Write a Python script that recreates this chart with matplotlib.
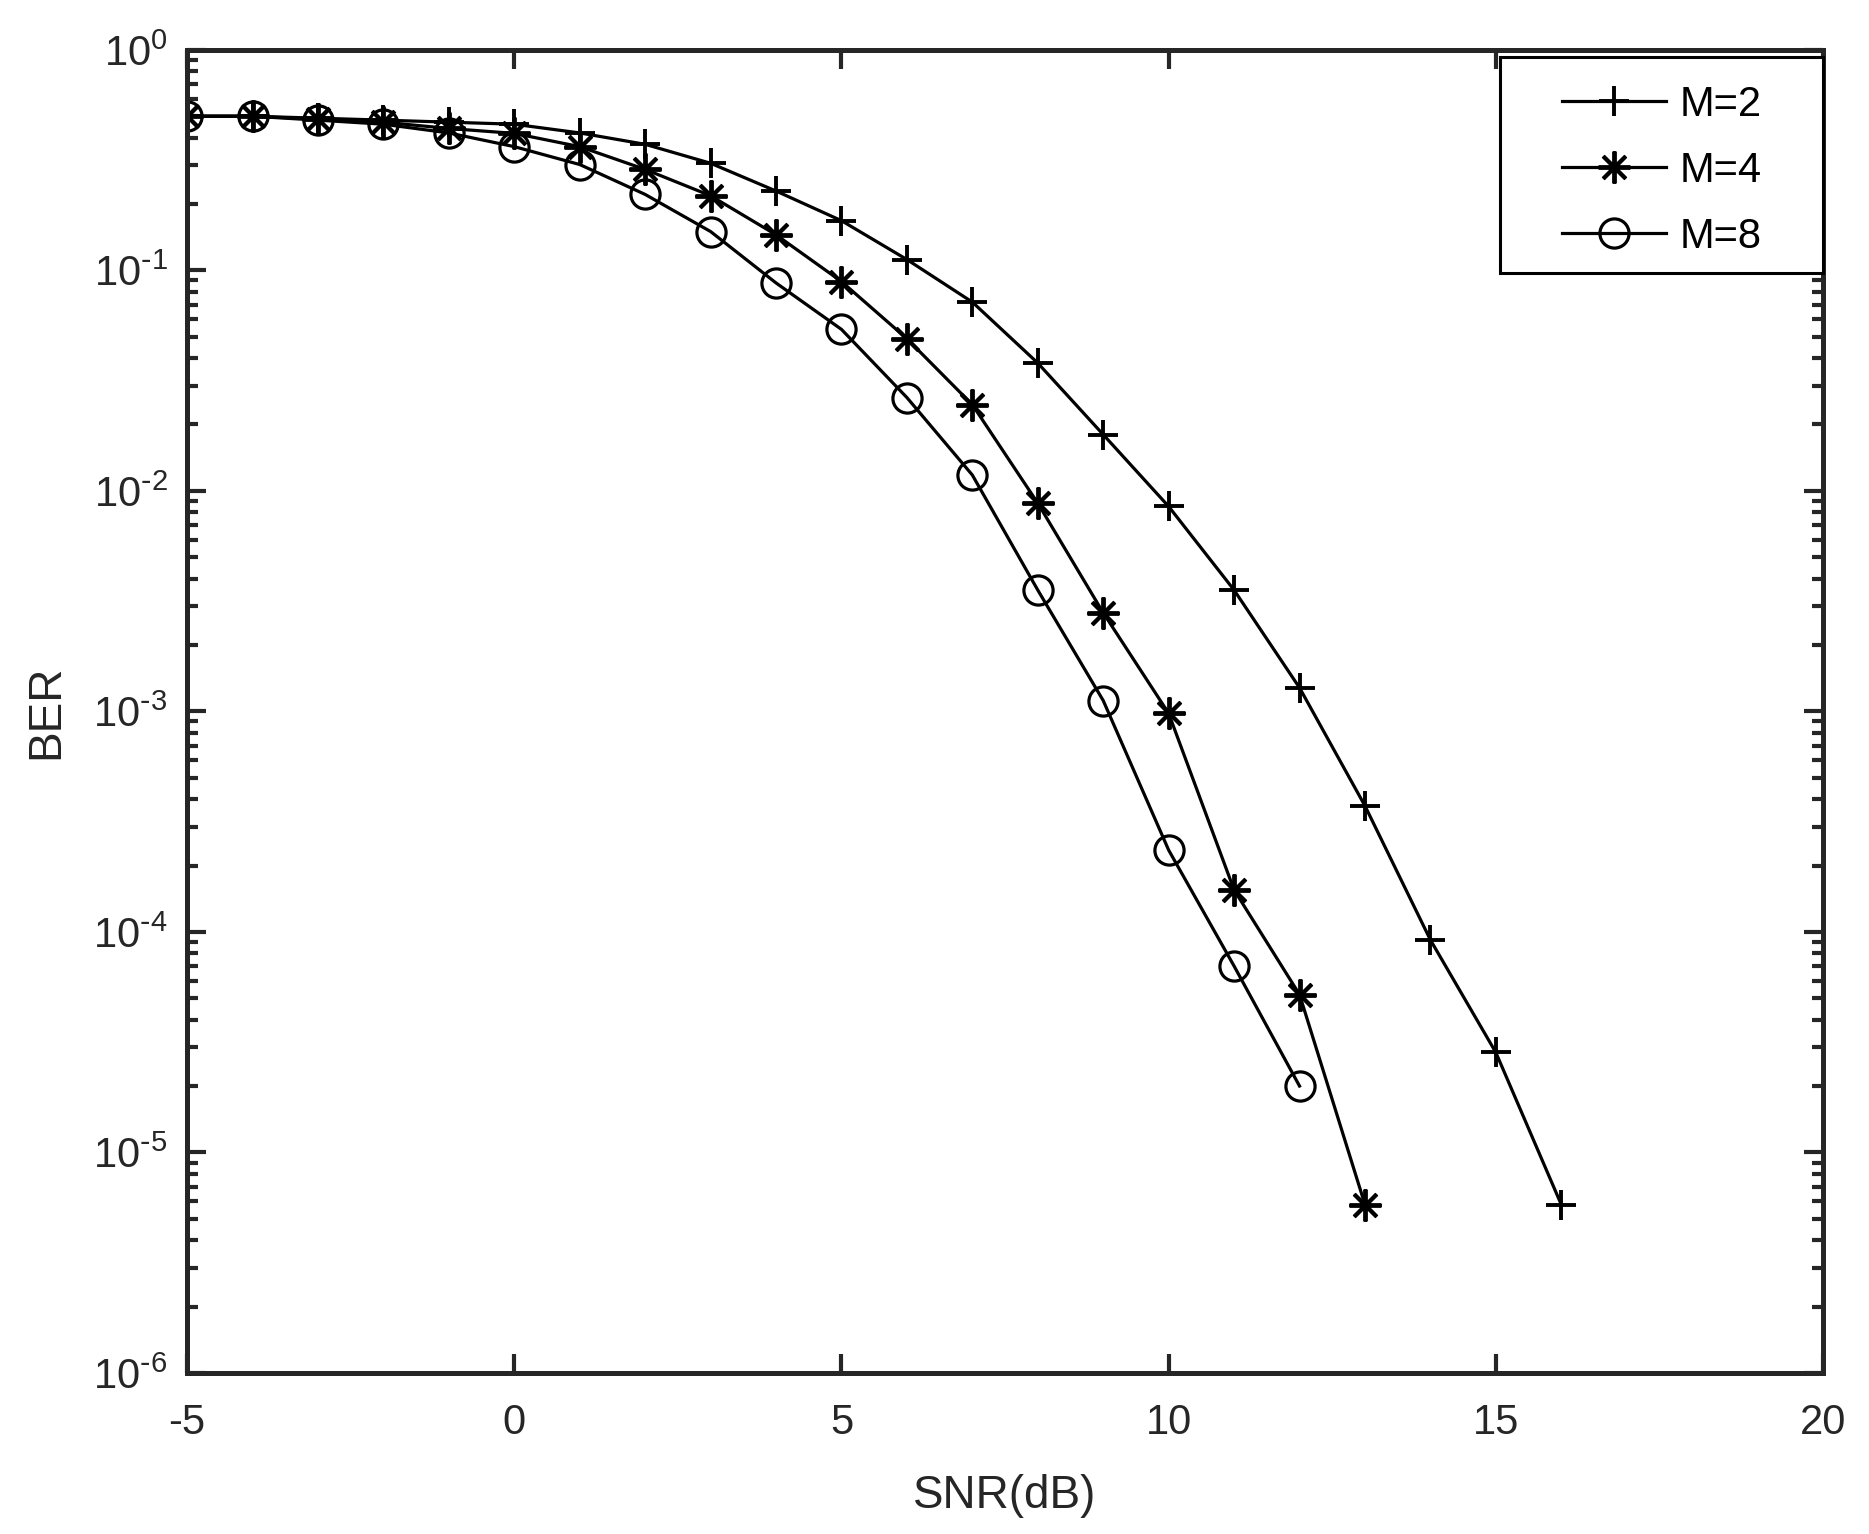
import matplotlib
matplotlib.use("Agg")
import matplotlib.pyplot as plt
from matplotlib.patches import Rectangle
from matplotlib.ticker import LogLocator, FixedLocator, FuncFormatter, NullFormatter
import numpy as np

plt.rcParams['font.family'] = ['Liberation Sans', 'DejaVu Sans']
plt.rcParams['axes.unicode_minus'] = False

# SNR points (dB) for each curve
snr_m2 = [-5, -4, -3, -2, -1, 0, 1, 2, 3, 4, 5, 6, 7, 8, 9, 10, 11, 12, 13, 14, 15, 16]
snr_m4 = [-5, -4, -3, -2, -1, 0, 1, 2, 3, 4, 5, 6, 7, 8, 9, 10, 11, 12, 13]
snr_m8 = [-5, -4, -3, -2, -1, 0, 1, 2, 3, 4, 5, 6, 7, 8, 9, 10, 11, 12]

# BER
ber_m2 = [0.50, 0.50, 0.49, 0.48, 0.47, 0.46, 0.42, 0.373, 0.306, 0.229, 0.168, 0.112,
          0.0718, 0.038, 0.018, 0.0085, 0.00355, 0.00128, 3.73e-4, 9.2e-5, 2.84e-5, 5.8e-6]
ber_m4 = [0.50, 0.50, 0.485, 0.47, 0.44, 0.418, 0.364, 0.287, 0.218, 0.145, 0.089, 0.049,
          0.0246, 0.0088, 0.0028, 9.8e-4, 1.55e-4, 5.2e-5, 5.8e-6]
ber_m8 = [0.50, 0.50, 0.48, 0.46, 0.42, 0.364, 0.302, 0.221, 0.15, 0.0877, 0.054, 0.0265,
          0.0118, 0.00355, 0.00112, 2.35e-4, 7.0e-5, 2.0e-5]

labels = ["M=2", "M=4", "M=8"]

axcol = "#262626"


def pow10(v, pos):
    e = int(round(np.log10(v)))
    if e < 0:
        return r"$\mathdefault{10^{\text{-}%d}}$" % (-e)
    return r"$\mathdefault{10^{%d}}$" % e


fig = plt.figure(figsize=(18.69, 15.34), dpi=100)
ax = fig.add_axes([0.1001, 0.105, 0.8753, 0.8625])

ax.plot(snr_m2, ber_m2, color="k", lw=2.3, marker="+", ms=21, mew=2.8, label=labels[0])
ax.plot(snr_m4, ber_m4, color="k", lw=2.3, marker=(8, 2, 0), ms=23, mew=2.8, label=labels[1])
ax.plot(snr_m8, ber_m8, color="k", lw=2.3, marker="o", ms=21, mew=2.3, mfc="none", label=labels[2])

ax.set_yscale("log")
ax.set_xlim(-5, 20)
ax.set_ylim(1e-6, 1)
ax.xaxis.set_major_locator(FixedLocator([-5, 0, 5, 10, 15, 20]))
ax.yaxis.set_major_locator(LogLocator(base=10, numticks=10))
ax.yaxis.set_minor_locator(LogLocator(base=10, subs=range(2, 10), numticks=20))
ax.yaxis.set_major_formatter(FuncFormatter(pow10))
ax.yaxis.set_minor_formatter(NullFormatter())

for s in ax.spines.values():
    s.set_linewidth(3.6)
    s.set_color(axcol)

ax.tick_params(which="both", direction="in", top=True, right=True, colors=axcol)
ax.tick_params(which="major", length=14, width=3.0, labelsize=30, labelcolor=axcol)
ax.tick_params(axis="y", which="major", pad=14)
ax.tick_params(axis="x", which="major", pad=22)
ax.tick_params(which="minor", length=8, width=3.0)

ax.set_xlabel("SNR(dB)", fontsize=33, color=axcol, labelpad=22)
ax.set_ylabel("BER", fontsize=33, color=axcol, labelpad=18)

# legend box like MATLAB's
box = Rectangle((0.8026, 0.8314), 0.1974, 0.1633, transform=ax.transAxes,
                facecolor="white", edgecolor="k", lw=2.2, zorder=5, clip_on=False)
ax.add_patch(box)
leg = ax.legend(loc="center", bbox_to_anchor=(0.9013, 0.9085), frameon=False,
                fontsize=30, handlelength=2.5, handletextpad=0.33, labelspacing=0.62)
leg.set_zorder(6)
for t in leg.get_texts():
    t.set_color("k")

fig.savefig("out.png", dpi=100)
